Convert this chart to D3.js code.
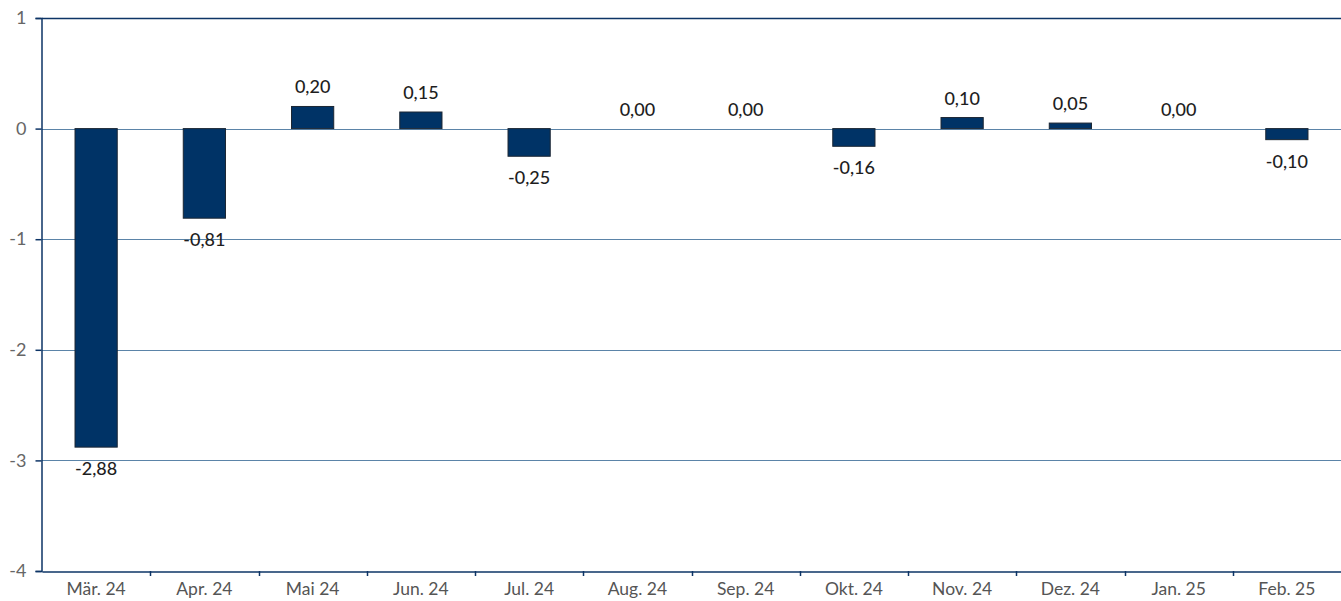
<!DOCTYPE html>
<html>
<head>
<meta charset="utf-8">
<script src="https://cdn.jsdelivr.net/npm/d3@7"></script>
<style>
body { margin: 0; background: #fff; }
text { font-family: "Lato", "Open Sans", sans-serif; }
</style>
</head>
<body>
<div id="chart"></div>
<script>
var months = ["Mär. 24", "Apr. 24", "Mai 24", "Jun. 24", "Jul. 24", "Aug. 24",
              "Sep. 24", "Okt. 24", "Nov. 24", "Dez. 24", "Jan. 25", "Feb. 25"];
var values = [-2.88, -0.81, 0.20, 0.15, -0.25, 0.00, 0.00, -0.16, 0.10, 0.05, 0.00, -0.10];
var yTicks = [1, 0, -1, -2, -3, -4];

var width = 1341, height = 601;
var margin = {top: 18, right: 0, bottom: 30, left: 42};

var svg = d3.select("#chart").append("svg")
    .attr("width", width).attr("height", height);

var x = d3.scaleBand().domain(months)
    .range([margin.left, width - margin.right])
    .paddingInner(0.61).paddingOuter(0.305);
var xOuter = d3.scaleBand().domain(months).range([margin.left, width - margin.right]);
var y = d3.scaleLinear().domain([-4, 1]).range([height - margin.bottom, margin.top]);

// gridlines
svg.append("g").selectAll("line")
    .data(yTicks.filter(function(d) { return d > -4; }))
    .enter().append("line")
    .attr("x1", margin.left).attr("x2", width)
    .attr("y1", function(d) { return Math.round(y(d)) + 0.5; })
    .attr("y2", function(d) { return Math.round(y(d)) + 0.5; })
    .attr("stroke", function(d) { return d === 1 ? "#0d3466" : "#5b84a8"; })
    .attr("stroke-width", function(d) { return d === 1 ? 1.5 : 1.2; });

// bars
svg.append("g").selectAll("rect")
    .data(values)
    .enter().append("rect")
    .attr("x", function(d, i) { return x(months[i]); })
    .attr("width", x.bandwidth())
    .attr("y", function(d) { return y(Math.max(0, d)); })
    .attr("height", function(d) { return Math.abs(y(d) - y(0)); })
    .attr("fill", "#003366")
    .attr("stroke", "#1b2633")
    .attr("stroke-width", 1);

// value labels
svg.append("g").selectAll("text")
    .data(values)
    .enter().append("text")
    .attr("x", function(d, i) { return x(months[i]) + x.bandwidth() / 2; })
    .attr("y", function(d) { return d < 0 ? y(d) + 28 : y(d) - 13; })
    .attr("text-anchor", "middle")
    .attr("font-size", 18)
    .attr("font-weight", 500)
    .attr("fill", "#1e1e1e")
    .text(function(d) { return d3.format(".2f")(d).replace(".", ",").replace("−", "-"); });

// y axis
var yAxis = svg.append("g")
    .attr("transform", "translate(" + (margin.left - 0.5) + ",0)")
    .call(d3.axisLeft(y).tickValues(yTicks).tickSize(6).tickPadding(9)
        .tickFormat(function(d) { return String(d).replace("−", "-"); }));
yAxis.select(".domain").attr("stroke", "#0d3466").attr("stroke-width", 1.5);
yAxis.selectAll(".tick line").attr("stroke", "#0d3466").attr("stroke-width", 1.5);
yAxis.selectAll(".tick text").attr("font-size", 18).attr("fill", "#666")
    .attr("font-family", "Lato, sans-serif");

// x axis
var xAxis = svg.append("g")
    .attr("transform", "translate(0," + (height - margin.bottom + 0.5) + ")")
    .call(d3.axisBottom(xOuter).tickSize(0).tickPadding(11));
xAxis.select(".domain").attr("stroke", "#0d3466").attr("stroke-width", 1.5);
xAxis.selectAll(".tick text").attr("font-size", 17.5).attr("fill", "#555")
    .attr("font-family", "Lato, sans-serif");

// x tick marks between categories
svg.append("g").selectAll("line")
    .data(months.slice(1))
    .enter().append("line")
    .attr("x1", function(d) { return Math.round(xOuter(d)) + 0.5; })
    .attr("x2", function(d) { return Math.round(xOuter(d)) + 0.5; })
    .attr("y1", height - margin.bottom)
    .attr("y2", height - margin.bottom + 5)
    .attr("stroke", "#0d3466").attr("stroke-width", 1.5);
</script>
</body>
</html>
